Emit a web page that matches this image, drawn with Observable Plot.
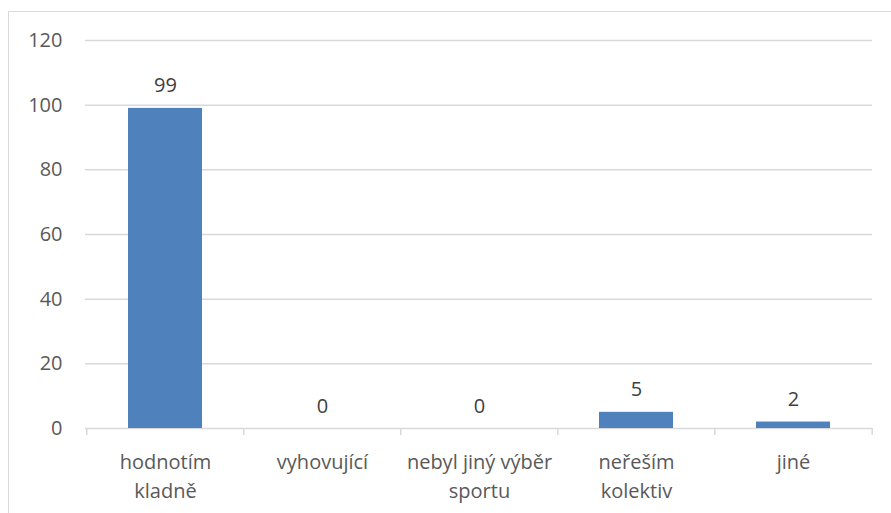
<!DOCTYPE html>
<html>
<head>
<meta charset="utf-8">
<script src="https://cdn.jsdelivr.net/npm/d3@7"></script>
<script src="https://cdn.jsdelivr.net/npm/@observablehq/plot@0.6"></script>
<style>
  html, body { margin: 0; padding: 0; background: #fff; }
  #wrap { position: relative; width: 891px; height: 513px; overflow: hidden; }
  #border { position: absolute; left: 8px; top: 11px; width: 900px; height: 520px; border: 1px solid #d9d9d9; box-sizing: border-box; }
  #chart { position: absolute; left: 0; top: 0; }
</style>
</head>
<body>
<div id="wrap"><div id="border"></div><div id="chart"></div></div>
<script>
const categories = ["hodnotím kladně", "vyhovující", "nebyl jiný výběr sportu", "neřeším kolektiv", "jiné"];
const values = [99, 0, 0, 5, 2];
const tickLabels = ["hodnotím\nkladně", "vyhovující", "nebyl jiný výběr\nsportu", "neřeším\nkolektiv", "jiné"];
const yTicks = [0, 20, 40, 60, 80, 100, 120];

const data = categories.map((c, i) => ({category: c, value: values[i], label: tickLabels[i]}));
const labelOf = new Map(data.map(d => [d.category, d.label]));

const W = 891, H = 513, mL = 85, mR = 19, mT = 40, mB = 85;
const step = (W - mL - mR) / categories.length;

const chart = Plot.plot({
  width: W,
  height: H,
  marginLeft: mL,
  marginRight: mR,
  marginTop: mT,
  marginBottom: mB,
  style: {fontFamily: "'Open Sans', sans-serif", fontSize: "20px", color: "#595959", background: "transparent"},
  x: {domain: categories, paddingInner: 0.53, paddingOuter: 0.265, label: null},
  y: {domain: [0, 120], label: null},
  marks: [
    Plot.gridY(yTicks.filter(t => t > 0), {stroke: "#d9d9d9", strokeOpacity: 1, strokeWidth: 1.5}),
    Plot.ruleY([0], {stroke: "#d9d9d9", strokeWidth: 1.5}),
    Plot.ruleX(categories, {x: d => d, y1: 0, y2: 0, dx: -step / 2, insetBottom: -7, stroke: "#d9d9d9", strokeWidth: 1.5}),
    Plot.ruleX(categories.slice(-1), {x: d => d, y1: 0, y2: 0, dx: step / 2, insetBottom: -7, stroke: "#d9d9d9", strokeWidth: 1.5}),
    Plot.barY(data, {x: "category", y: "value", fill: "#4f81bd"}),
    Plot.text(data, {x: "category", y: "value", text: d => String(d.value), lineAnchor: "bottom", dy: -16, fill: "#404040", fontSize: 20}),
    Plot.axisY({ticks: yTicks, tickSize: 0, tickPadding: 23, fontSize: 20, fill: "#595959"}),
    Plot.axisX({tickSize: 0, tickPadding: 20, tickFormat: c => labelOf.get(c), lineHeight: 1.45, fontSize: 20, fill: "#595959"})
  ]
});
document.getElementById("chart").appendChild(chart);
</script>
</body>
</html>
